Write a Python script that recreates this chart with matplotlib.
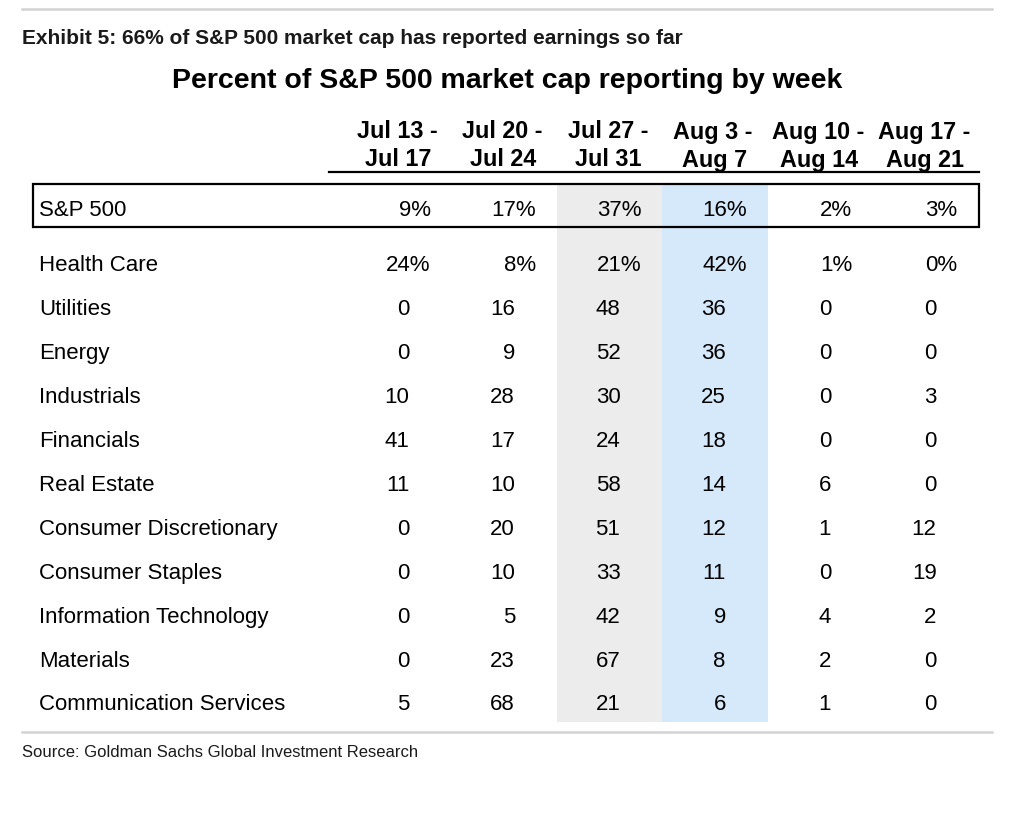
import matplotlib
matplotlib.use("Agg")
import matplotlib.pyplot as plt
from matplotlib.patches import Rectangle

# table data
weeks = [("Jul 13 -", "Jul 17"), ("Jul 20 -", "Jul 24"), ("Jul 27 -", "Jul 31"),
         ("Aug 3 -", "Aug 7"), ("Aug 10 -", "Aug 14"), ("Aug 17 -", "Aug 21")]
total_label = "S&P 500"
total_vals = [9, 17, 37, 16, 2, 3]
sectors = ["Health Care", "Utilities", "Energy", "Industrials", "Financials",
           "Real Estate", "Consumer Discretionary", "Consumer Staples",
           "Information Technology", "Materials", "Communication Services"]
sector_vals = [
    [24, 8, 21, 42, 1, 0],
    [0, 16, 48, 36, 0, 0],
    [0, 9, 52, 36, 0, 0],
    [10, 28, 30, 25, 0, 3],
    [41, 17, 24, 18, 0, 0],
    [11, 10, 58, 14, 6, 0],
    [0, 20, 51, 12, 1, 12],
    [0, 10, 33, 11, 0, 19],
    [0, 5, 42, 9, 4, 2],
    [0, 23, 67, 8, 2, 0],
    [5, 68, 21, 6, 1, 0],
]

exhibit = "Exhibit 5: 66% of S&P 500 market cap has reported earnings so far"
title = "Percent of S&P 500 market cap reporting by week"
source = "Source: Goldman Sachs Global Investment Research"

# layout (pixels)
W, H = 1016, 820
col_left0 = 346.2
col_w = 105.4
pad_r = 21
row0_y = 210
row1_y = 266
row_h = 43.9
cell_font = ["Liberation Sans", "DejaVu Sans"]

fig = plt.figure(figsize=(W / 100, H / 100), dpi=100)
ax = fig.add_axes([0, 0, 1, 1])
ax.set_xlim(0, W)
ax.set_ylim(H, 0)
ax.axis("off")

# rules top and bottom
ax.plot([22, 992], [10, 10], color="#d3d3d3", lw=1.8)
ax.plot([22, 992], [733, 733], color="#d3d3d3", lw=1.8)

ax.text(22, 38, exhibit, fontsize=15, fontweight="bold", family=cell_font,
        ha="left", va="center", color="#1a1a1a")
ax.text(507, 81, title, fontsize=20.5, fontweight="bold", family=cell_font,
        ha="center", va="center", color="black")

# column shading (Jul 27 week grey, Aug 3 week blue)
shade_top = 185
shade_bot = 723
ax.add_patch(Rectangle((col_left0 + 2 * col_w, shade_top), col_w, shade_bot - shade_top,
                       facecolor="#ececec", edgecolor="none", zorder=0))
ax.add_patch(Rectangle((col_left0 + 3 * col_w, shade_top), col_w, shade_bot - shade_top,
                       facecolor="#d5e9fb", edgecolor="none", zorder=0))

# header
for i, (l1, l2) in enumerate(weeks):
    cx = col_left0 + i * col_w + col_w / 2 - 2
    ax.text(cx, 132, l1, fontsize=16.8, fontweight="bold", family=cell_font,
            ha="center", va="center")
    ax.text(cx + 1, 160, l2, fontsize=16.8, fontweight="bold", family=cell_font,
            ha="center", va="center")
ax.plot([329, 979], [172.5, 172.5], color="black", lw=1.6)

# S&P 500 box
ax.add_patch(Rectangle((33, 185), 979 - 33, 43, facecolor="none",
                       edgecolor="black", lw=1.6, zorder=3))
ax.text(39, row0_y, total_label, fontsize=16, family=cell_font, ha="left", va="center")
for i, v in enumerate(total_vals):
    rx = col_left0 + (i + 1) * col_w - pad_r
    ax.text(rx, row0_y, f"{v}%", fontsize=16, family=cell_font, ha="right", va="center")

# sector rows
pct_w = 21
for r, (name, vals) in enumerate(zip(sectors, sector_vals)):
    y = row1_y + r * row_h
    ax.text(39, y, name, fontsize=16, family=cell_font, ha="left", va="center")
    for i, v in enumerate(vals):
        rx = col_left0 + (i + 1) * col_w - pad_r
        if r == 0:
            ax.text(rx, y, f"{v}%", fontsize=16, family=cell_font, ha="right", va="center")
        else:
            ax.text(rx - pct_w, y, f"{v}", fontsize=16, family=cell_font,
                    ha="right", va="center")

ax.text(22, 753, source, fontsize=12, family=cell_font, ha="left", va="center",
        color="#1a1a1a")

fig.savefig("out.png", dpi=100)
